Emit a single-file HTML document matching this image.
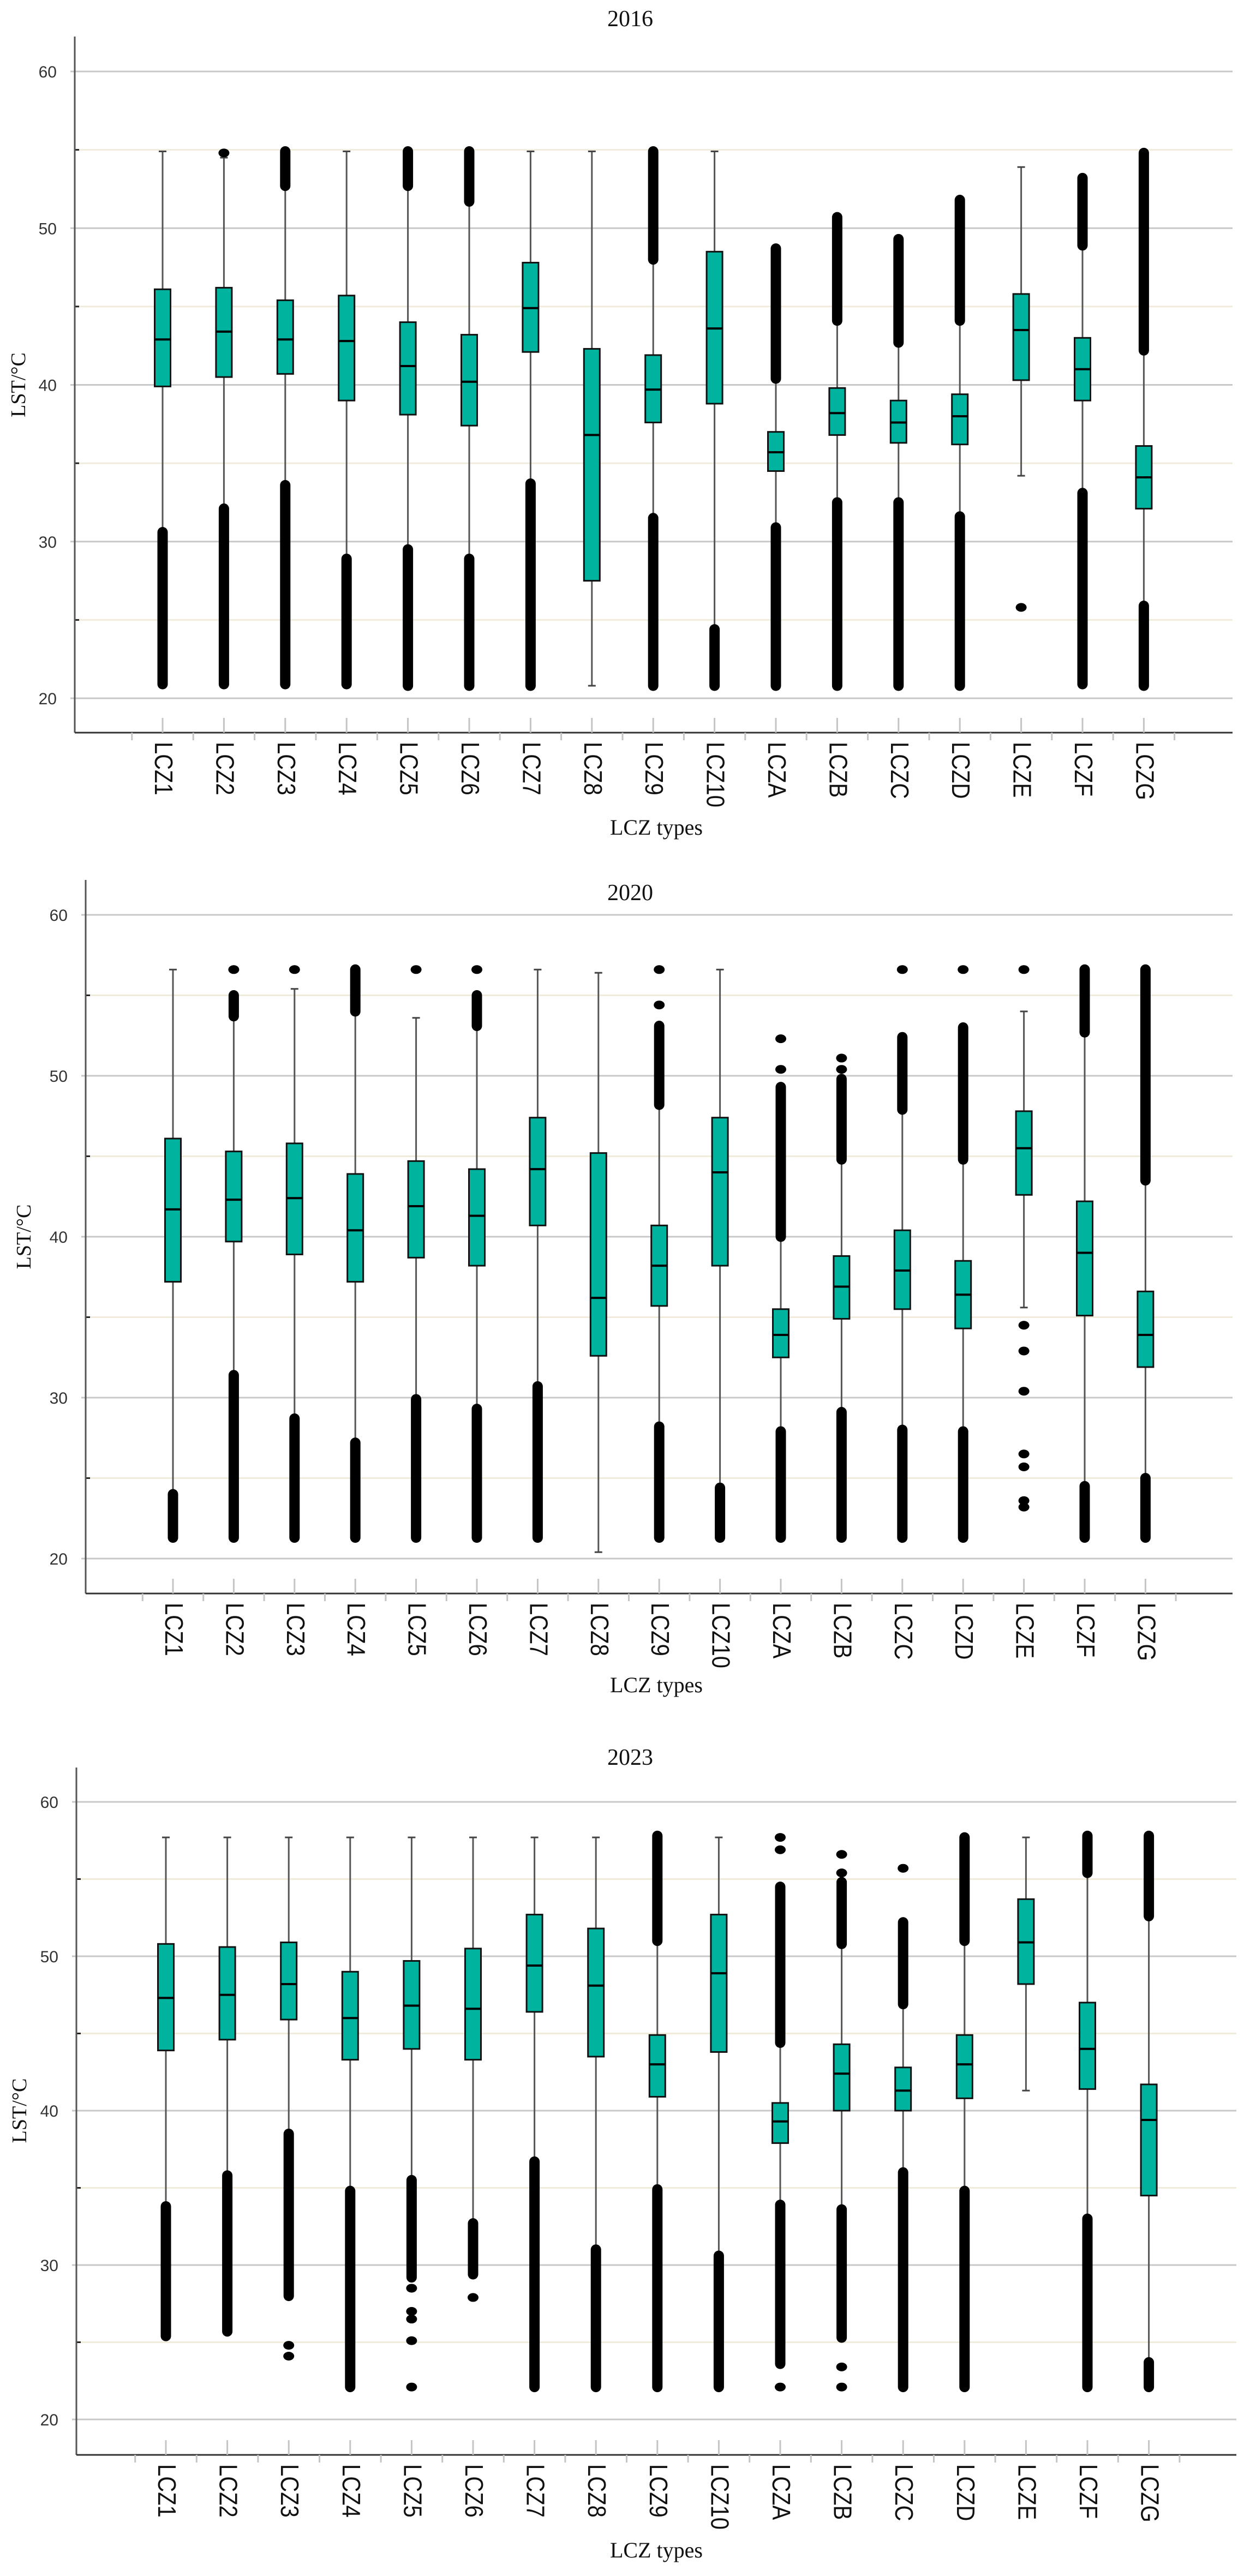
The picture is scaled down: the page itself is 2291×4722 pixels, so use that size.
<!DOCTYPE html>
<html><head><meta charset="utf-8"><style>
html,body{margin:0;padding:0;background:#fff;}
svg{display:block;}
</style></head><body>
<svg id="chart" xmlns="http://www.w3.org/2000/svg" width="2291" height="4722" viewBox="0 0 2291 4722"></svg>
<script>
const categories = ["LCZ1","LCZ2","LCZ3","LCZ4","LCZ5","LCZ6","LCZ7","LCZ8","LCZ9","LCZ10","LCZA","LCZB","LCZC","LCZD","LCZE","LCZF","LCZG"];
const yTicks = [20,30,40,50,60];
const yMinorTicks = [25,35,45,55];
const years = ["2016","2020","2023"];

// 2016
const q1_2016  = [39.9,40.5,40.7,39.0,38.1,37.4,42.1,27.5,37.6,38.8,34.5,36.8,36.3,36.2,40.3,39.0,32.1];
const med_2016 = [42.9,43.4,42.9,42.8,41.2,40.2,44.9,36.8,39.7,43.6,35.7,38.2,37.6,38.0,43.5,41.0,34.1];
const q3_2016  = [46.1,46.2,45.4,45.7,44.0,43.2,47.8,42.3,41.9,48.5,37.0,39.8,39.0,39.4,45.8,43.0,36.1];
const wHi_2016 = [54.9,54.5,52.7,54.9,52.7,51.7,54.9,54.9,48.0,54.9,40.4,44.1,42.7,44.1,53.9,48.9,42.2];
const wLo_2016 = [30.6,32.1,33.6,28.9,29.5,28.9,33.7,20.8,31.5,24.4,30.9,32.5,32.5,31.6,34.2,33.1,25.9];
const hiCol_2016 = [null,null,54.9,null,54.9,54.9,null,null,54.9,null,48.7,50.7,49.3,51.8,null,53.2,54.8];
const loCol_2016 = [20.9,20.9,20.9,20.9,20.8,20.8,20.8,null,20.8,20.8,20.8,20.8,20.8,20.8,null,20.9,20.8];
const pts_2016 = [[],[54.8],[],[],[],[],[],[],[],[],[],[],[],[],[25.8],[],[]];

// 2020
const q1_2020  = [37.2,39.7,38.9,37.2,38.7,38.2,40.7,32.6,35.7,38.2,32.5,34.9,35.5,34.3,42.6,35.1,31.9];
const med_2020 = [41.7,42.3,42.4,40.4,41.9,41.3,44.2,36.2,38.2,44.0,33.9,36.9,37.9,36.4,45.5,39.0,33.9];
const q3_2020  = [46.1,45.3,45.8,43.9,44.7,44.2,47.4,45.2,40.7,47.4,35.5,38.8,40.4,38.5,47.8,42.2,36.6];
const wHi_2020 = [56.6,53.7,55.4,54.0,53.6,53.1,56.6,56.4,48.2,56.6,40.0,44.8,47.9,44.8,54.0,52.7,43.5];
const wLo_2020 = [24.0,31.4,28.7,27.2,29.9,29.3,30.7,20.4,28.2,24.4,27.9,29.1,28.0,27.9,35.6,24.5,25.0];
const hiCol_2020 = [null,55.0,null,56.6,null,55.0,null,null,53.1,null,49.3,49.8,52.4,53.0,null,56.6,56.6];
const loCol_2020 = [21.3,21.3,21.3,21.3,21.3,21.3,21.3,null,21.3,21.3,21.3,21.3,21.3,21.3,null,21.3,21.3];
const pts_2020 = [[],[56.6],[56.6],[],[56.6],[56.6],[],[],[56.6,54.4],[],[52.3,50.4],[51.1,50.4],[56.6],[56.6],[56.6,34.5,32.9,30.4,26.5,25.7,23.6,23.2],[],[]];

// 2023
const q1_2023  = [43.9,44.6,45.9,43.3,44.0,43.3,46.4,43.5,40.9,43.8,37.9,40.0,40.0,40.8,48.2,41.4,34.5];
const med_2023 = [47.3,47.5,48.2,46.0,46.8,46.6,49.4,48.1,43.0,48.9,39.3,42.4,41.3,43.0,50.9,44.0,39.4];
const q3_2023  = [50.8,50.6,50.9,49.0,49.7,50.5,52.7,51.8,44.9,52.7,40.5,44.3,42.8,44.9,53.7,47.0,41.7];
const wHi_2023 = [57.7,57.7,57.7,57.7,57.7,57.7,57.7,57.7,51.0,57.7,44.4,50.8,46.9,51.0,57.7,55.4,52.6];
const wLo_2023 = [33.8,35.8,38.5,34.8,35.5,32.7,36.7,31.0,34.9,30.6,33.9,33.6,36.0,34.8,41.3,33.0,23.7];
const hiCol_2023 = [null,null,null,null,null,null,null,null,57.8,null,54.5,54.8,52.2,57.7,null,57.8,57.8];
const loCol_2023 = [25.4,25.7,28.0,22.1,29.2,29.4,22.1,22.1,22.1,22.1,23.6,25.3,22.1,22.1,null,22.1,22.1];
const pts_2023 = [[],[],[24.8,24.1],[],[28.5,27.0,26.5,25.1,22.1],[27.9],[],[],[],[],[57.7,56.9,22.1],[56.6,55.4,23.4,22.1],[55.7],[],[],[],[]];

const SVGNS = "http://www.w3.org/2000/svg";
const svg = document.getElementById("chart");
function mk(tag, attrs, parent){
  const e = document.createElementNS(SVGNS, tag);
  for (const k in attrs) e.setAttribute(k, attrs[k]);
  (parent||svg).appendChild(e);
  return e;
}

const layouts = [
  {ax:137, right:2259, top:67, y60:131, y20:1280, bottom:1343, first:298, step:112.4, titleY:48, xTitleY:1530, yLabX:34},
  {ax:157, right:2259, top:1613, y60:1677, y20:2857, bottom:2921, first:317, step:111.4, titleY:1650, xTitleY:3102, yLabX:44},
  {ax:140, right:2266, top:3240, y60:3303, y20:4435, bottom:4500, first:304, step:112.6, titleY:3235, xTitleY:4688, yLabX:36}
];
const datasets = [
  {q1:q1_2016,med:med_2016,q3:q3_2016,wHi:wHi_2016,wLo:wLo_2016,hiCol:hiCol_2016,loCol:loCol_2016,pts:pts_2016},
  {q1:q1_2020,med:med_2020,q3:q3_2020,wHi:wHi_2020,wLo:wLo_2020,hiCol:hiCol_2020,loCol:loCol_2020,pts:pts_2020},
  {q1:q1_2023,med:med_2023,q3:q3_2023,wHi:wHi_2023,wLo:wLo_2023,hiCol:hiCol_2023,loCol:loCol_2023,pts:pts_2023}
];

layouts.forEach((L, p) => {
  const D = datasets[p];
  const yS = v => L.y20 + (v - 20) * (L.y60 - L.y20) / 40;
  const xS = i => L.first + i * L.step;
  const g = mk("g", {});
  
  

  // title
  const t = mk("text", {x:1155, y:L.titleY, "text-anchor":"middle", "font-family":"Liberation Serif, serif", "font-size":"42", fill:"#111"}, g);
  t.textContent = years[p];
  
  

  // minor gridlines
  yMinorTicks.forEach(v => {
    const l = mk("line", {x1:L.ax, x2:L.right, y1:yS(v), y2:yS(v), stroke:"#f1ebdc", "stroke-width":3}, g);
    
    
    const tk = mk("line", {x1:L.ax, x2:L.ax+8, y1:yS(v), y2:yS(v), stroke:"#222", "stroke-width":3}, g);
    
    
  });
  // major gridlines + labels
  yTicks.forEach(v => {
    const l = mk("line", {x1:L.ax-8, x2:L.right, y1:yS(v), y2:yS(v), stroke:"#c8c8c8", "stroke-width":3}, g);
    
    
    const tx = mk("text", {x:L.ax-33, y:yS(v)+11, "text-anchor":"end", "font-family":"Liberation Sans, sans-serif", "font-size":"30", fill:"#333"}, g);
    tx.textContent = v;
    
    
  });

  // axes
  const ya = mk("line", {x1:L.ax, x2:L.ax, y1:L.top, y2:L.bottom, stroke:"#555", "stroke-width":3}, g);
  
  
  const xa = mk("line", {x1:L.ax, x2:L.right, y1:L.bottom, y2:L.bottom, stroke:"#333", "stroke-width":3}, g);
  
  

  // y label
  const yl = mk("text", {x:0, y:0, "text-anchor":"middle", "font-family":"Liberation Serif, serif", "font-size":"38", fill:"#111",
    transform:`translate(${L.yLabX+12},${(L.y60+L.y20)/2}) rotate(-90)`}, g);
  yl.textContent = "LST/°C";
  
  

  // x title
  const xt = mk("text", {x:1203, y:L.xTitleY, "text-anchor":"middle", "font-family":"Liberation Serif, serif", "font-size":"40", fill:"#111"}, g);
  xt.textContent = "LCZ types";
  
  

  // slot boundary ticks
  for (let i = -1; i < categories.length; i++) {
    const bx = xS(i) + L.step/2;
    const mt = mk("line", {x1:bx, x2:bx, y1:L.bottom, y2:L.bottom+14, stroke:"#c4c4c4", "stroke-width":3}, g);
    
    
  }

  categories.forEach((c, i) => {
    const cx = xS(i);
    const bg = mk("g", {}, g);
    
    

    // category tick + label
    const ct = mk("line", {x1:cx, x2:cx, y1:L.bottom-27, y2:L.bottom, stroke:"#c4c4c4", "stroke-width":3}, bg);
    
    
    const lb = mk("text", {x:0, y:0, "font-family":"Liberation Sans, sans-serif", "font-size":"40", fill:"#111",
      transform:`translate(${cx-14},${L.bottom+17}) rotate(90) scale(1,1.15)`}, bg);
    lb.textContent = c;
    
    

    // whiskers
    const wu = mk("line", {x1:cx, x2:cx, y1:yS(D.q3[i]), y2:yS(D.wHi[i]), stroke:"#555", "stroke-width":3}, bg);
    
    
    const wl = mk("line", {x1:cx, x2:cx, y1:yS(D.q1[i]), y2:yS(D.wLo[i]), stroke:"#555", "stroke-width":3}, bg);
    
    
    if (D.hiCol[i] === null) {
      const cap = mk("line", {x1:cx-7, x2:cx+7, y1:yS(D.wHi[i]), y2:yS(D.wHi[i]), stroke:"#444", "stroke-width":3}, bg);
      
      
    }
    if (D.loCol[i] === null) {
      const cap = mk("line", {x1:cx-7, x2:cx+7, y1:yS(D.wLo[i]), y2:yS(D.wLo[i]), stroke:"#444", "stroke-width":3}, bg);
      
      
    }
    // outlier columns
    if (D.hiCol[i] !== null) {
      const oc = mk("line", {x1:cx, x2:cx, y1:yS(D.wHi[i]), y2:yS(D.hiCol[i]), stroke:"#000", "stroke-width":19, "stroke-linecap":"round"}, bg);
      
      
    }
    if (D.loCol[i] !== null) {
      const oc = mk("line", {x1:cx, x2:cx, y1:yS(D.wLo[i]), y2:yS(D.loCol[i]), stroke:"#000", "stroke-width":19, "stroke-linecap":"round"}, bg);
      
      
    }
    D.pts[i].forEach(v => {
      const e = mk("ellipse", {cx:cx, cy:yS(v), rx:10, ry:8, fill:"#000"}, bg);
      
      
    });
    // box
    const r = mk("rect", {x:cx-14.5, y:yS(D.q3[i]), width:29, height:yS(D.q1[i])-yS(D.q3[i]), fill:"#00b39f", stroke:"#111", "stroke-width":3}, bg);
    
    
    const m = mk("line", {x1:cx-14.5, x2:cx+14.5, y1:yS(D.med[i]), y2:yS(D.med[i]), stroke:"#000", "stroke-width":4}, bg);
    
    
  });
});
</script>
</body></html>
